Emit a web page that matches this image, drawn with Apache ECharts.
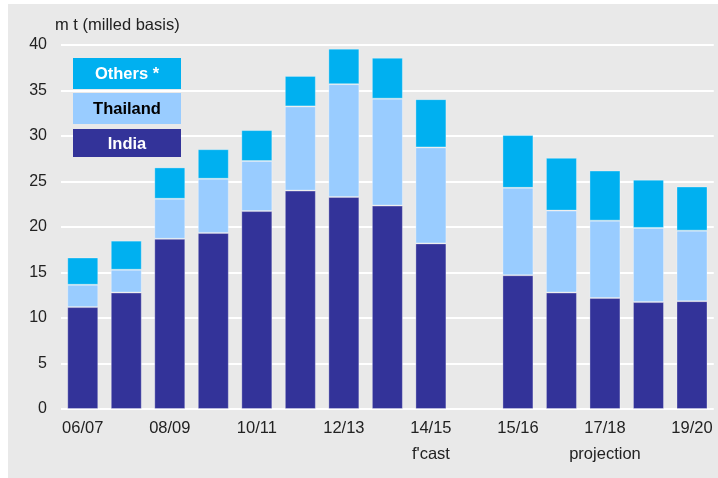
<!DOCTYPE html>
<html>
<head>
<meta charset="utf-8">
<script src="https://cdn.jsdelivr.net/npm/echarts@6/dist/echarts.min.js"></script>
<style>
  html, body { margin: 0; padding: 0; background: #ffffff; }
  #frame { position: absolute; left: 8px; top: 4px; width: 710px; height: 474px; background: #e9e9e9; }
  #chart { position: absolute; left: 0; top: 0; width: 718px; height: 478px; }
</style>
</head>
<body>
<div id="frame"></div>
<div id="chart"></div>
<script>
// Sugar exports, million tonnes (milled basis); the blank slot separates forecast from projections
const seasons = ["06/07", "07/08", "08/09", "09/10", "10/11", "11/12", "12/13", "13/14", "14/15", "",
                 "15/16", "16/17", "17/18", "18/19", "19/20"];
const india    = [11.2, 12.8, 18.7, 19.35, 21.75, 24.0, 23.3, 22.35, 18.2, null, 14.7, 12.8, 12.2, 11.75, 11.85];
const thailand = [2.45, 2.5, 4.4, 5.95, 5.5, 9.25, 12.4, 11.75, 10.55, null, 9.6, 9.0, 8.5, 8.15, 7.75];
const others   = [3.0, 3.2, 3.45, 3.25, 3.4, 3.35, 3.9, 4.5, 5.3, null, 5.8, 5.8, 5.5, 5.3, 4.85];
const periodNotes = { "14/15": "f'cast", "17/18": "projection" };
const yTicks = [0, 5, 10, 15, 20, 25, 30, 35, 40];

const colors = { india: "#333399", thailand: "#99ccff", others: "#00b0f0" };
const font = "Liberation Sans, Arial, sans-serif";

const chart = echarts.init(document.getElementById("chart"), null, { renderer: "canvas" });

function barSeries(name, data, color) {
  return {
    name: name,
    type: "bar",
    stack: "total",
    data: data,
    barWidth: 31,
    itemStyle: { color: color, borderColor: "rgba(255,255,255,0.3)", borderWidth: 1 },
    emphasis: { disabled: true }
  };
}

// Key boxes: coloured blocks with the series name centred inside, drawn above the grid lines
const keyEntries = [
  { name: "Others *", bg: colors.others, fg: "#ffffff", y: 58, h: 31 },
  { name: "Thailand", bg: colors.thailand, fg: "#000000", y: 93, h: 31 },
  { name: "India", bg: colors.india, fg: "#ffffff", y: 129, h: 28 }
];
const keyWidth = 108;
const keyGraphics = keyEntries.map(function (k) {
  return {
    type: "group",
    left: 73, top: k.y,
    z: 100,
    children: [
      {
        type: "rect", z: 100,
        shape: { x: 0, y: 0, width: keyWidth, height: k.h },
        style: { fill: k.bg }
      },
      {
        type: "text", z: 101,
        x: keyWidth / 2, y: k.h / 2 + 1,
        style: {
          text: k.name, fill: k.fg, font: "bold 16.5px " + font,
          align: "center", verticalAlign: "middle"
        }
      }
    ]
  };
});

chart.setOption({
  animation: false,
  backgroundColor: "transparent",
  title: {
    text: "m t (milled basis)",
    left: 55, top: 17, padding: 0,
    textStyle: { fontSize: 16.5, fontWeight: "normal", color: "#222", fontFamily: font }
  },
  graphic: keyGraphics,
  grid: { left: 61, right: 4.25, top: 45, bottom: 69, containLabel: false },
  xAxis: {
    type: "category",
    data: seasons,
    axisLine: { show: false },
    axisTick: { show: false },
    axisLabel: {
      interval: 1,
      margin: 6,
      fontSize: 16.5, lineHeight: 26, color: "#222", fontFamily: font,
      formatter: function (v) { return periodNotes[v] ? v + "\n" + periodNotes[v] : v; }
    }
  },
  yAxis: {
    type: "value",
    min: yTicks[0], max: yTicks[yTicks.length - 1], interval: yTicks[1] - yTicks[0],
    axisLine: { show: false },
    axisTick: { show: false },
    axisLabel: { margin: 14, fontSize: 16, color: "#222", fontFamily: font },
    splitLine: { lineStyle: { color: "#ffffff", width: 2 } }
  },
  series: [
    barSeries("India", india, colors.india),
    barSeries("Thailand", thailand, colors.thailand),
    barSeries("Others *", others, colors.others)
  ]
});
</script>
</body>
</html>
